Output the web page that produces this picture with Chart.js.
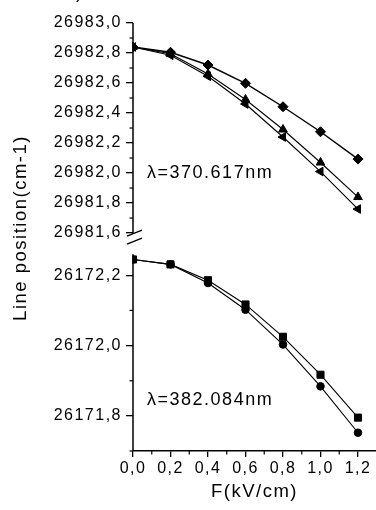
<!DOCTYPE html>
<html><head><meta charset="utf-8">
<script src="https://cdn.jsdelivr.net/npm/chart.js@4.4.1/dist/chart.umd.min.js"></script>
<style>html,body{margin:0;padding:0;background:#fff;}canvas{display:block;}</style>
</head><body>
<canvas id="c" width="376" height="510"></canvas>
<script>
// ---- data ----
const fieldKV = [0.0, 0.2, 0.4, 0.6, 0.8, 1.0, 1.2];
const line370Diamond  = [26982.84, 26982.805, 26982.72, 26982.598, 26982.442, 26982.275, 26982.093];
const line370TriUp    = [26982.84, 26982.795, 26982.66, 26982.49, 26982.29, 26982.07, 26981.84];
const line370TriLeft  = [26982.84, 26982.785, 26982.645, 26982.46, 26982.24, 26982.01, 26981.76];
const line382Square   = [26172.245, 26172.231, 26172.186, 26172.117, 26172.025, 26171.917, 26171.795];
const line382Circle   = [26172.245, 26172.231, 26172.178, 26172.102, 26172.003, 26171.884, 26171.752];

const topMajorTicks = [26981.6, 26981.8, 26982.0, 26982.2, 26982.4, 26982.6, 26982.8, 26983.0];
const topMinorTicks = [26981.7, 26981.9, 26982.1, 26982.3, 26982.5, 26982.7, 26982.9];
const botMajorTicks = [26171.8, 26172.0, 26172.2];
const botMinorTicks = [26171.7, 26171.9, 26172.1];
const xMajorTicks = [0.0, 0.2, 0.4, 0.6, 0.8, 1.0, 1.2];
const xMinorTicks = [0.1, 0.3, 0.5, 0.7, 0.9, 1.1];
const topAxisSpan = [26981.6, 26983.0];
const botAxisSpan = [26171.7, 26172.26];
const topScaleRange = [26981.527, 26983.0];
const botScaleRange = [26171.70, 26172.289];
const xRange = [0, 1.296];

const label370 = 'λ=370.617nm';
const label382 = 'λ=382.084nm';
const label370At = [0.075, 26982.0];
const label382At = [0.075, 26171.845];
const xTitle = 'F(kV/cm)';
const yTitle = 'Line position(cm-1)';

// ---- helpers ----
const FONT = '"Liberation Sans", Arial, Helvetica, sans-serif';
const fmt = v => Number(v).toFixed(1).replace('.', ',');
const pts = arr => fieldKV.map((x, i) => ({x, y: arr[i]}));

const spacing = {
  id: 'spacing',
  beforeUpdate(c) { c.ctx.letterSpacing = '1.5px'; },
  beforeLayout(c) { c.ctx.letterSpacing = '1.5px'; },
  beforeDraw(c) { c.ctx.letterSpacing = '1.5px'; }
};

const decor = {
  id: 'decor',
  afterDraw(chart) {
    const ctx = chart.ctx;
    const {left} = chart.chartArea;
    const yt = chart.scales.yTop, yb = chart.scales.yBot, xs = chart.scales.x;
    ctx.save();
    ctx.letterSpacing = '1.5px';
    ctx.strokeStyle = '#000';
    ctx.fillStyle = '#000';
    ctx.lineWidth = 1.5;
    const seg = (x1, y1, x2, y2) => { ctx.beginPath(); ctx.moveTo(x1, y1); ctx.lineTo(x2, y2); ctx.stroke(); };
    // y axis segments
    const t0 = yt.getPixelForValue(topAxisSpan[1]), t1 = yt.getPixelForValue(topAxisSpan[0]);
    seg(left, t0, left, t1 + 1);
    const b0 = yb.getPixelForValue(botAxisSpan[1]), b1 = yb.getPixelForValue(botAxisSpan[0]);
    seg(left, b0, left, b1);
    // minor ticks
    ctx.lineWidth = 1.2;
    topMinorTicks.forEach(v => { const p = yt.getPixelForValue(v); seg(left - 3.5, p, left, p); });
    botMinorTicks.forEach(v => { const p = yb.getPixelForValue(v); seg(left - 3.5, p, left, p); });
    const xb = chart.chartArea.bottom;
    xMinorTicks.forEach(v => { const p = xs.getPixelForValue(v); seg(p, xb, p, xb + 3.5); });
    // break marks
    ctx.lineWidth = 1.3;
    seg(left - 6, t1 + 3, left + 9, t1 - 3);
    seg(left - 6, t1 + 11, left + 9, t1 + 5);
    // annotations
    ctx.font = '18px ' + FONT;
    ctx.textAlign = 'left';
    ctx.textBaseline = 'middle';
    ctx.fillText(label370, xs.getPixelForValue(label370At[0]), yt.getPixelForValue(label370At[1]));
    ctx.fillText(label382, xs.getPixelForValue(label382At[0]), yb.getPixelForValue(label382At[1]));
    // y title
    ctx.font = '18.5px ' + FONT;
    ctx.textAlign = 'center';
    ctx.translate(21, 228);
    ctx.rotate(-Math.PI / 2);
    ctx.fillText(yTitle, 0, 0);
    ctx.restore();
    // cut-off text fragment at top
    ctx.save();
    ctx.font = '18px ' + FONT;
    ctx.fillStyle = '#000';
    ctx.textBaseline = 'middle';
    ctx.fillText(')', 76, -7);
    ctx.restore();
  }
};

const commonDs = {borderColor: '#000', backgroundColor: '#000', pointBorderColor: '#000', pointBackgroundColor: '#000', borderWidth: 1.1, tension: 0, pointBorderWidth: 1, clip: {left: 0.5, top: false, right: false, bottom: false}};

const yAxisCommon = (range, majors, weight, sw) => ({
  type: 'linear',
  position: 'left',
  stack: 'ybreak',
  stackWeight: sw,
  weight: weight,
  min: range[0],
  max: range[1],
  afterBuildTicks: s => { s.ticks = majors.map(v => ({value: v})); },
  afterFit: s => { s.width = 133; s.paddingTop = 0; s.paddingBottom = 0; },
  border: {display: false},
  grid: {display: true, drawOnChartArea: false, drawTicks: true, tickLength: 7, color: '#000', lineWidth: 1.3},
  ticks: {color: '#000', font: {family: FONT, size: 16}, padding: 4, autoSkip: false, callback: v => fmt(v)}
});

new Chart(document.getElementById('c'), {
  type: 'line',
  data: {
    datasets: [
      {...commonDs, data: pts(line370Diamond), yAxisID: 'yTop', pointStyle: 'rectRot', pointRadius: 5, borderWidth: 1.4},
      {...commonDs, data: pts(line370TriUp), yAxisID: 'yTop', pointStyle: 'triangle', pointRadius: 5},
      {...commonDs, data: pts(line370TriLeft), yAxisID: 'yTop', pointStyle: 'triangle', pointRotation: -90, pointRadius: 5},
      {...commonDs, data: pts(line382Square), yAxisID: 'yBot', pointStyle: 'rect', pointRadius: 5},
      {...commonDs, data: pts(line382Circle), yAxisID: 'yBot', pointStyle: 'circle', pointRadius: 3.8}
    ]
  },
  options: {
    responsive: false,
    animation: false,
    devicePixelRatio: 1,
    layout: {autoPadding: false, padding: {top: 23, left: 0, right: 0, bottom: 0}},
    plugins: {legend: {display: false}, tooltip: {enabled: false}},
    scales: {
      x: {
        type: 'linear',
        position: 'bottom',
        min: xRange[0],
        max: xRange[1],
        afterBuildTicks: s => { s.ticks = xMajorTicks.map(v => ({value: v})); },
        afterFit: s => { s.height = 59; s.paddingLeft = 0; s.paddingRight = 0; },
        border: {display: true, color: '#000', width: 1.5},
        grid: {display: true, drawOnChartArea: false, drawTicks: true, tickLength: 6, color: '#000', lineWidth: 1.3},
        ticks: {color: '#000', font: {family: FONT, size: 16}, padding: 2, autoSkip: false, maxRotation: 0, callback: v => fmt(v)},
        title: {display: true, text: xTitle, color: '#000', font: {family: FONT, size: 18.5}, padding: {top: 0, bottom: 7}}
      },
      yTop: yAxisCommon(topScaleRange, topMajorTicks, 2, 221),
      yBot: yAxisCommon(botScaleRange, botMajorTicks, 1, 207)
    }
  },
  plugins: [spacing, decor]
});
</script>
</body></html>
